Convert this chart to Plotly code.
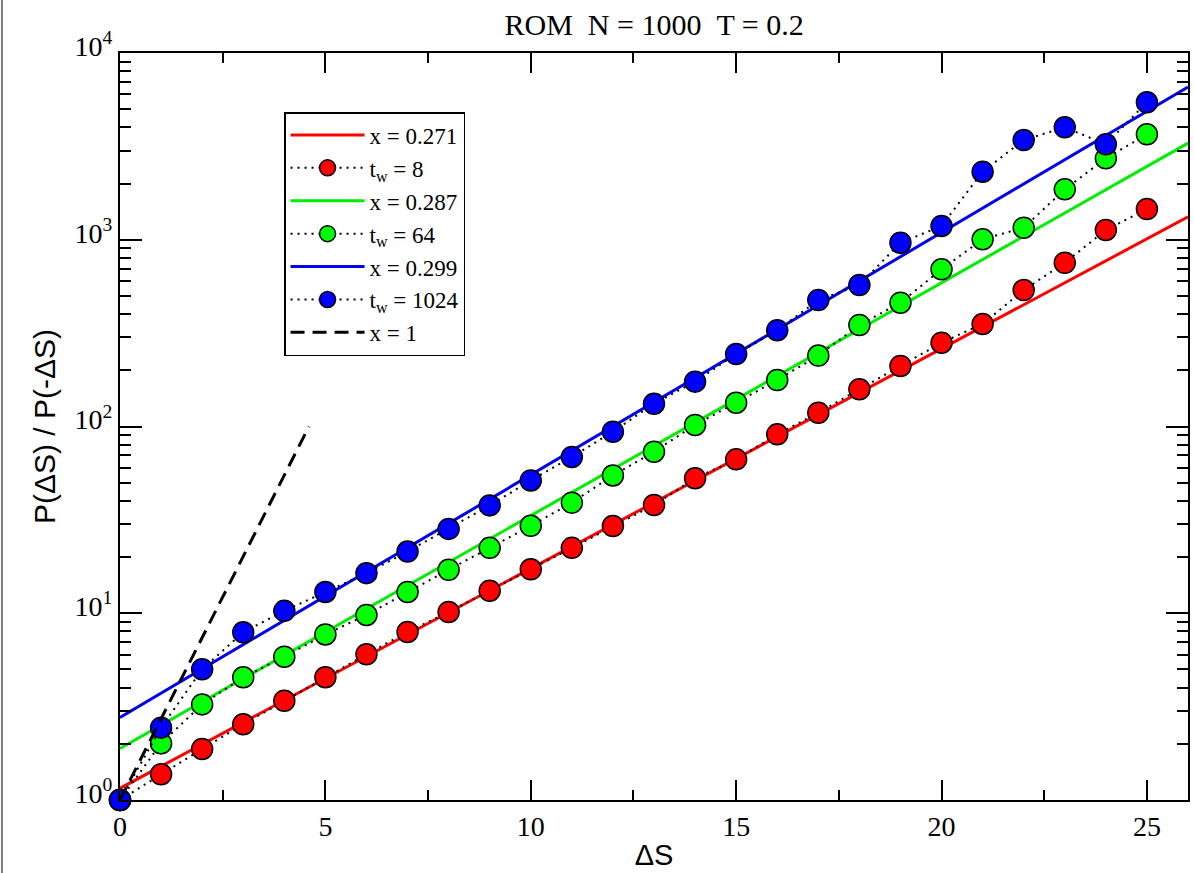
import plotly.graph_objects as go

# ---- data ----
dS = list(range(26))
tw8 = [1.0, 1.373, 1.876, 2.543, 3.40, 4.54, 6.03, 7.94, 10.16, 13.2, 17.2, 22.4, 29.3, 38.0,
       52.8, 66.7, 90.8, 118.5, 158.2, 210.9, 281, 354, 538, 753, 1128, 1461]
tw64 = [1.0, 2.01, 3.25, 4.54, 5.85, 7.70, 9.79, 13.0, 17.1, 22.4, 29.4, 39.1, 54.7, 73.3,
        101.9, 134.1, 177.4, 239.9, 349.6, 460, 694.5, 1005.6, 1160, 1862, 2729, 3670]
tw1024 = [1.0, 2.44, 5.01, 7.91, 10.3, 13.0, 16.4, 21.4, 28.3, 37.8, 51.4, 68.7, 93.8, 132.5,
          173.8, 244.5, 327.4, 475.7, 572, 964, 1185, 2314, 3420, 4000, 3245, 5448]

# fitted exponential lines (end points)
fit_x = [0, 26]
fit_271 = [1.155, 1326]
fit_287 = [1.89, 3290]
fit_299 = [2.77, 6577]
# x = 1 reference line
ref_x = [0, 4.6]
ref_y = [1.0, 100.0]

serif = "Liberation Serif"
sans = "Liberation Sans"

fig = go.Figure()

fig.add_trace(go.Scatter(x=fit_x, y=fit_271, mode="lines", name="x = 0.271",
                         line=dict(color="#ff0000", width=3), legendrank=1))
fig.add_trace(go.Scatter(x=fit_x, y=fit_287, mode="lines", name="x = 0.287",
                         line=dict(color="#00ee00", width=3), legendrank=3))
fig.add_trace(go.Scatter(x=fit_x, y=fit_299, mode="lines", name="x = 0.299",
                         line=dict(color="#0000ee", width=3), legendrank=5))

def mk(y, col, name, rank):
    return go.Scatter(x=dS, y=y, mode="lines+markers", name=name, legendrank=rank,
                      cliponaxis=False,
                      line=dict(color="black", width=2, dash="2px,5px"),
                      marker=dict(color=col, size=21, line=dict(color="black", width=1.5)))

fig.add_trace(mk(tw8, "#ff0000", "t<sub>w</sub> = 8", 2))
fig.add_trace(mk(tw64, "#00ff00", "t<sub>w</sub> = 64", 4))
fig.add_trace(mk(tw1024, "#0000ff", "t<sub>w</sub> = 1024", 6))
fig.add_trace(go.Scatter(x=ref_x, y=ref_y, mode="lines", name="x = 1", legendrank=7,
                         line=dict(color="black", width=3, dash="14px,8px")))

ytv = [1, 10, 100, 1000, 10000]
ytt = ["10<sup>0</sup>", "10<sup>1</sup>", "10<sup>2</sup>", "10<sup>3</sup>", "10<sup>4</sup>"]
yminor = [m * 10 ** e for e in range(4) for m in range(2, 10)]

fig.update_layout(
    width=1194, height=873,
    margin=dict(l=120, r=6, t=53, b=73),
    paper_bgcolor="white", plot_bgcolor="white",
    font=dict(family=serif, size=27, color="black"),
    title=dict(text="ROM\u00a0\u00a0N = 1000\u00a0\u00a0T = 0.2", x=0.5478, xanchor="center",
               y=1 - 24 / 873, yanchor="middle", yref="container",
               font=dict(family=serif, size=30, color="black")),
    legend=dict(x=0.1536, y=0.921, xanchor="left", yanchor="top",
                bgcolor="white", bordercolor="black", borderwidth=1.5,
                font=dict(family=serif, size=23, color="black"),
                itemwidth=74, tracegroupgap=0),
    xaxis=dict(range=[0, 26], tickmode="linear", tick0=0, dtick=5,
               ticks="inside", ticklen=20, tickwidth=2, tickcolor="black",
               showline=True, linecolor="black", linewidth=2, mirror="allticks",
               showgrid=False, zeroline=False, automargin=False,
               tickfont=dict(family=serif, size=28, color="black"),
               minor=dict(ticks="inside", ticklen=10, tickwidth=2, tickcolor="black",
                          dtick=2.5, tick0=0, showgrid=False),
               title=dict(text="ΔS", font=dict(family=sans, size=29, color="black"),
                          standoff=4)),
    yaxis=dict(type="log", range=[0, 4], tickmode="array", tickvals=ytv, ticktext=ytt,
               ticks="inside", ticklen=22, tickwidth=2, tickcolor="black",
               showline=True, linecolor="black", linewidth=2, mirror="allticks",
               showgrid=False, zeroline=False, automargin=False,
               tickfont=dict(family=serif, size=28, color="black"),
               ticklabelshift=-7,
               minor=dict(ticks="inside", ticklen=11, tickwidth=2, tickcolor="black",
                          tickmode="array", tickvals=yminor, showgrid=False),
               title=dict(text="P(ΔS) / P(-ΔS)", font=dict(family=sans, size=30, color="black"),
                          standoff=10)),
    showlegend=True,
)

fig.add_shape(type="line", xref="paper", yref="paper", x0=-0.1105, x1=-0.1105, y0=-0.1, y1=1.08,
              line=dict(color="#808080", width=2))

fig.write_html("out.html")
